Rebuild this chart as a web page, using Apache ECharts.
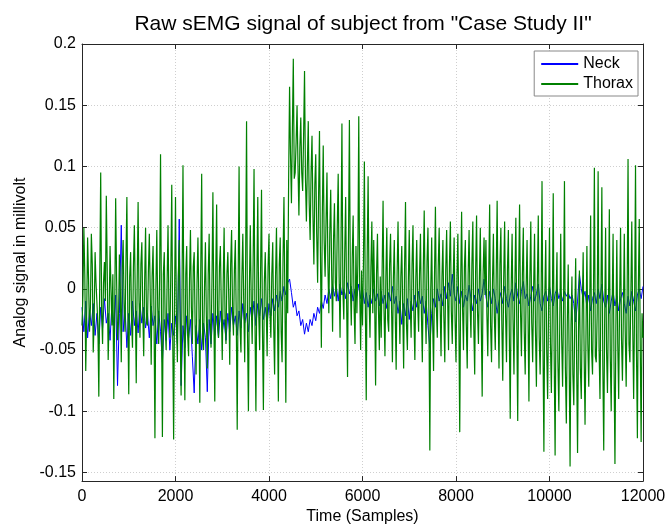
<!DOCTYPE html>
<html>
<head>
<meta charset="utf-8">
<title>Raw sEMG signal</title>
<script src="https://cdn.jsdelivr.net/npm/echarts@6/dist/echarts.min.js"></script>
<style>
  html, body { margin: 0; padding: 0; background: #fff; }
  #chart { width: 669px; height: 530px; }
</style>
</head>
<body>
<div id="chart"></div>
<script>
// values, in units of 0.001 mV
// neck: one value every 40 samples, thorax: one value every 20 samples (0 .. 12000)
const neckStep = 40;
const thoraxStep = 20;

const neck = [
  -15, -35, -10, -40, -18, -30, -12, -38, -20, -45,
  -15, -32, -8, -28, -20, -42, -12, -30, -5, -79,
  -20, 52, -35, -15, -48, -20, -38, -10, -30, -18,
  -36, -12, -28, -15, -32, -20, -40, -14, -30, -22,
  -45, -18, -35, -60, -25, -42, -20, -50, -28, -38,
  -22, -45, 57, -79, -30, -48, -22, -40, -25, -55,
  -85, -30, -45, -25, -50, -28, -40, -84, -25, -45,
  -20, -38, -22, -40, -18, -35, -25, -42, -20, -35,
  -15, -30, -22, -38, -18, -32, -12, -28, -20, -35,
  -15, -25, -10, -30, -12, -22, -8, -25, -15, -28,
  -12, -22, -8, -18, -5, -15, -2, -10, 2, -5,
  5, 8, -3, -15, -10, -22, -18, -30, -25, -37,
  -28, -35, -25, -30, -20, -26, -15, -20, -10, -16,
  -5, -12, 0, -8, 3, -6, 2, -10, 4, -5,
  0, -8, 5, -4, 2, -10, 0, -6, 4, -8,
  0, -12, -3, -15, -5, -12, 0, -10, -4, -14,
  -2, -12, -5, -16, -3, -10, 2, -12, -6, -20,
  -10, -29, -12, -22, -8, -25, -10, -18, -5, -15,
  -2, -12, -6, -20, -10, -30, -48, -20, -8, -15,
  0, -10, -4, -14, 2, -8, 5, -6, 12, -4,
  -10, 2, -12, -2, -15, -5, -10, 3, -8, -18,
  -5, -12, 0, -10, -4, 8, -6, -15, -2, -12,
  0, -8, -20, -10, -3, -12, 2, -8, -15, -5,
  0, -10, 5, -6, -12, -2, 6, -8, -4, -14,
  -6, 2, -10, -4, 4, -12, -18, -6, -2, -10,
  2, -8, -14, -4, 0, -8, -3, -10, -2, -6,
  -3, -8, -5, -12, -27, -10, 12, 0, -8, -2,
  -15, -5, -18, -8, -3, -12, 0, -8, 4, -10,
  -15, -5, -20, -10, -2, -14, -6, -18, -8, -3,
  -12, -20, -6, -14, -2, -10, -18, -5, 0, -8,
  2
];

const thorax = [
  -30, -5, 50, 12, -67, -20, 42, 8, -35, -15, 45, 20, -52, -25, 30, 5, -12, -30, -88, 10,
  95, -18, -45, 5, 22, -10, 76, 15, -58, -22, 35, 0, -30, 12, -90, -15, 74, 8, -42, -28,
  28, 0, -60, 15, 40, -12, -35, 22, 75, -20, -86, 10, 30, -25, -48, 18, 52, -8, -77, 5,
  71, -10, -40, 20, 38, -18, -55, 6, 50, -28, -30, 14, 45, -5, -62, 10, 35, -20, -122, 0,
  48, -15, -45, 8, 110, -22, -121, 12, 30, -30, -50, 5, 52, -18, -40, 15, 85, -35, -123, -5,
  75, -25, -60, 10, 40, -32, -87, 2, 101, -20, -91, 12, 35, -38, -55, 8, 48, -15, -45, 18,
  30, -30, -70, 5, 42, -12, -93, 15, 94, -40, -50, 0, 38, -22, -65, 12, 45, -28, -48, 6,
  79, -20, -92, 10, 69, -30, -40, 18, 35, -15, -58, 4, 50, -25, -45, 12, 30, -8, -62, 20,
  48, -18, -38, 15, 40, -25, -115, 5, 100, -30, -52, 10, 45, -12, -60, 22, 137, -35, -100, 0,
  52, -10, -45, 20, 98, -28, -100, 8, 75, -20, -50, 15, 81, -32, -99, 5, 30, -15, -55, 18,
  45, -20, -40, 12, 38, -30, -70, 10, 50, -15, -92, 20, 42, -35, -60, 25, 75, -10, -93, 40,
  -20, 90, 165, 110, 70, 130, 188, 90, 95, 120, 150, 100, 60, 115, 140, 95, 80, 125, 178, 90,
  55, 100, 137, 70, 40, 95, 125, 60, 20, 85, 110, 45, 5, 75, 129, 30, -48, 60, 117, 40,
  10, 55, 95, 20, -20, 45, 81, 15, -35, 40, 70, 5, -10, 50, 94, 10, -40, 35, 135, 0,
  -25, 30, 75, -10, -72, 40, 138, 5, -30, 25, 60, -15, -45, 35, -20, 20, 141, 0, -50, 15,
  -30, 20, 104, -10, -91, 25, 92, -5, -40, 18, 55, -20, 40, -8, -79, 12, 45, -15, -50, 10,
  -40, 15, 72, -18, -55, 10, 50, -25, -35, 20, 45, -12, -60, 8, 40, -20, -66, 12, 55, -5,
  -45, 10, 35, -15, -65, 18, 71, -28, -50, 5, 48, -10, -40, 20, 52, -22, -58, 8, 40, -12,
  -35, 12, 45, -20, -60, 15, 64, -8, -45, 22, 50, -18, -132, 0, 42, -25, -67, 10, 67, -15,
  -40, 18, 50, -12, -55, 10, 40, -22, -60, 15, 48, -5, -50, 20, 55, -18, -45, 8, 42, -25,
  -60, 10, 45, -20, -117, 5, 63, -15, -50, 18, 40, -28, -65, 12, 48, -10, -40, 20, 55, -30,
  -70, 15, 60, -18, -45, 8, 50, -25, -88, 12, 42, -5, 40, -20, -55, 10, 69, -30, -60, 5,
  45, -22, -50, 10, 72, -15, -65, 20, 50, -28, -75, 8, 55, -20, -60, 15, 48, -35, -106, 0,
  45, -25, -70, 5, 58, -30, -108, 10, 69, -18, -55, 12, 50, -35, -70, 0, 40, -20, -92, 8,
  55, -28, -60, 0, 45, -35, -80, 5, 60, -40, -70, -10, 88, -45, -133, -5, 40, -50, -90, -15,
  50, -45, -85, -20, 78, -55, -136, -10, 30, -60, -100, -25, 45, -40, -80, -15, 88, -65, -110, -30,
  20, -55, -145, -30, 10, -70, -95, -25, 25, -60, -134, -35, 15, -65, -90, -20, 30, -50, -111, -40,
  35, -45, -80, -15, 60, -50, -70, -10, 99, -55, -60, -20, 96, -48, -90, -5, 83, -60, -132, -25,
  50, -50, -85, -20, 65, -55, -100, -15, 45, -60, -143, -30, 40, -45, -90, -10, 50, -40, -75, -20,
  45, -35, -80, -10, 106, -45, -60, -5, 55, -30, -90, -15, 101, -50, -122, 0, 57, -40, -125, -20,
  -40
];

const yTicks = [-150, -100, -50, 0, 50, 100, 150, 200];
const seriesNames = ['Neck', 'Thorax'];
const seriesColors = ['#0000ff', '#008000'];

const font = 'Liberation Sans, Arial, sans-serif';
const frameColor = '#262626';

function toPairs(values, step) {
  return values.map((v, i) => [i * step, v]);
}

const chart = echarts.init(document.getElementById('chart'), null, { renderer: 'canvas' });

const xBase = {
  type: 'value',
  min: 0,
  max: 12000,
  interval: 2000,
  axisLine: { show: true, onZero: false, lineStyle: { color: frameColor, width: 1 } },
  axisTick: { show: true, inside: true, length: 5, lineStyle: { color: frameColor } }
};

const yBase = {
  type: 'value',
  min: -157,
  max: 200,
  axisLine: { show: true, onZero: false, lineStyle: { color: frameColor, width: 1 } },
  axisTick: { show: true, inside: true, length: 5, customValues: yTicks, lineStyle: { color: frameColor } }
};

chart.setOption({
  animation: false,
  backgroundColor: '#fff',
  color: seriesColors,
  title: {
    text: 'Raw sEMG signal of subject from "Case Study II"',
    left: 358,
    top: 9,
    textAlign: 'center',
    textStyle: { fontFamily: font, fontSize: 21, fontWeight: 'normal', color: '#000' }
  },
  legend: {
    data: seriesNames,
    orient: 'vertical',
    right: 31,
    top: 51,
    icon: 'rect',
    itemWidth: 37,
    itemHeight: 2,
    itemGap: 2,
    padding: [4, 5, 3, 7],
    backgroundColor: '#fff',
    borderColor: '#888',
    borderWidth: 1,
    textStyle: { fontFamily: font, fontSize: 16, color: '#000', lineHeight: 18 }
  },
  grid: { left: 82, right: 26, top: 44, bottom: 44, containLabel: false },
  xAxis: [
    Object.assign({}, xBase, {
      position: 'bottom',
      name: 'Time (Samples)',
      nameLocation: 'middle',
      nameGap: 26,
      nameTextStyle: { fontFamily: font, fontSize: 16, color: '#000' },
      axisLabel: { fontFamily: font, fontSize: 16, color: '#000', margin: 7, formatter: v => String(v) },
      splitLine: { show: true, lineStyle: { color: '#cfcfcf', type: [1, 2], width: 1 } }
    }),
    Object.assign({}, xBase, {
      position: 'top',
      axisLabel: { show: false },
      splitLine: { show: false }
    })
  ],
  yAxis: [
    Object.assign({}, yBase, {
      position: 'left',
      name: 'Analog signal in millivolt',
      nameLocation: 'middle',
      nameGap: 46,
      nameTextStyle: { fontFamily: font, fontSize: 16, color: '#000' },
      axisLabel: {
        fontFamily: font, fontSize: 16, color: '#000', margin: 6,
        customValues: yTicks,
        formatter: v => String(v / 1000)
      },
      splitLine: { show: true, lineStyle: { color: '#cfcfcf', type: [1, 2], width: 1 } }
    }),
    Object.assign({}, yBase, {
      position: 'right',
      axisLabel: { show: false },
      splitLine: { show: false }
    })
  ],
  series: [
    {
      name: seriesNames[0],
      type: 'line',
      xAxisIndex: 0,
      yAxisIndex: 0,
      data: toPairs(neck, neckStep),
      showSymbol: false,
      symbol: 'none',
      lineStyle: { width: 1, color: seriesColors[0] },
      z: 2
    },
    {
      name: seriesNames[1],
      type: 'line',
      xAxisIndex: 0,
      yAxisIndex: 0,
      data: toPairs(thorax, thoraxStep),
      showSymbol: false,
      symbol: 'none',
      lineStyle: { width: 1.2, color: seriesColors[1] },
      z: 3
    }
  ]
});
</script>
</body>
</html>
